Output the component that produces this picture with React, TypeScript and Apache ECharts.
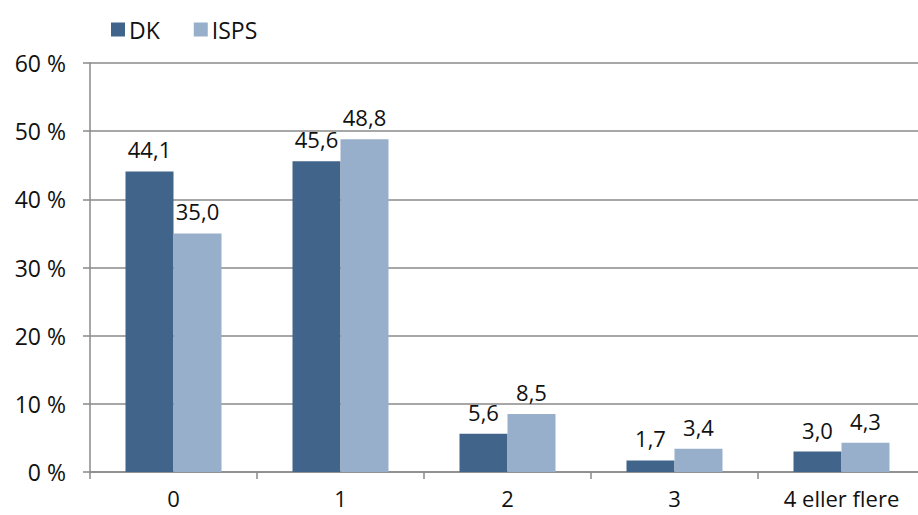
import React, { useEffect, useRef } from "react";
import * as echarts from "echarts";

const categories = ["0", "1", "2", "3", "4 eller flere"];
const dkValues = [44.1, 45.6, 5.6, 1.7, 3.0];
const ispsValues = [35.0, 48.8, 8.5, 3.4, 4.3];
const seriesNames = ["DK", "ISPS"];

const fmt = (v: number) => v.toFixed(1).replace(".", ",");

export default function App() {
  const ref = useRef<HTMLDivElement>(null);
  useEffect(() => {
    if (!ref.current) return;
    const chart = echarts.init(ref.current, null, { renderer: "svg" });
    const font = "Open Sans";
    const labelCfg = {
      show: true,
      position: "top" as const,
      distance: 11,
      color: "#111",
      fontSize: 22,
      fontFamily: font,
      formatter: (p: any) => fmt(p.value),
    };
    chart.setOption({
      animation: false,
      backgroundColor: "#fff",
      textStyle: { fontFamily: font },
      legend: {
        left: 106,
        top: 13,
        itemWidth: 14,
        itemHeight: 14,
        itemGap: 34,
        icon: "rect",
        textStyle: { fontSize: 23, color: "#111", fontFamily: font, padding: [0, 0, 0, -1] },
        data: seriesNames,
      },
      grid: { left: 90, top: 63, height: 409, width: 835, outerBoundsMode: "none" },
      xAxis: {
        type: "category",
        data: categories,
        axisLine: { lineStyle: { color: "#8a8a8a", width: 1.5 } },
        axisTick: { show: true, length: 7, lineStyle: { color: "#8a8a8a", width: 1.5 } },
        axisLabel: { fontSize: 22, lineHeight: 22, color: "#111", margin: 15, fontFamily: font },
      },
      yAxis: {
        type: "value",
        min: 0,
        max: 60,
        interval: 10,
        axisLine: { show: true, lineStyle: { color: "#8a8a8a", width: 1.5 } },
        axisTick: { show: true, length: 7, lineStyle: { color: "#8a8a8a", width: 1.5 } },
        splitLine: { show: true, lineStyle: { color: "#8a8a8a", width: 1.5 } },
        axisLabel: {
          fontSize: 23,
          color: "#111",
          margin: 24,
          fontFamily: font,
          formatter: (v: number) => `${v} %`,
        },
      },
      series: [
        {
          name: seriesNames[0],
          type: "bar",
          data: dkValues,
          barWidth: 48,
          barGap: "0%",
          itemStyle: { color: "#41648a" },
          label: labelCfg,
        },
        {
          name: seriesNames[1],
          type: "bar",
          data: ispsValues,
          barWidth: 48,
          barGap: "0%",
          itemStyle: { color: "#98afcb" },
          label: labelCfg,
        },
      ],
    });
    return () => chart.dispose();
  }, []);
  return <div ref={ref} style={{ width: 918, height: 515, position: "absolute", left: 0, top: 0 }} />;
}
